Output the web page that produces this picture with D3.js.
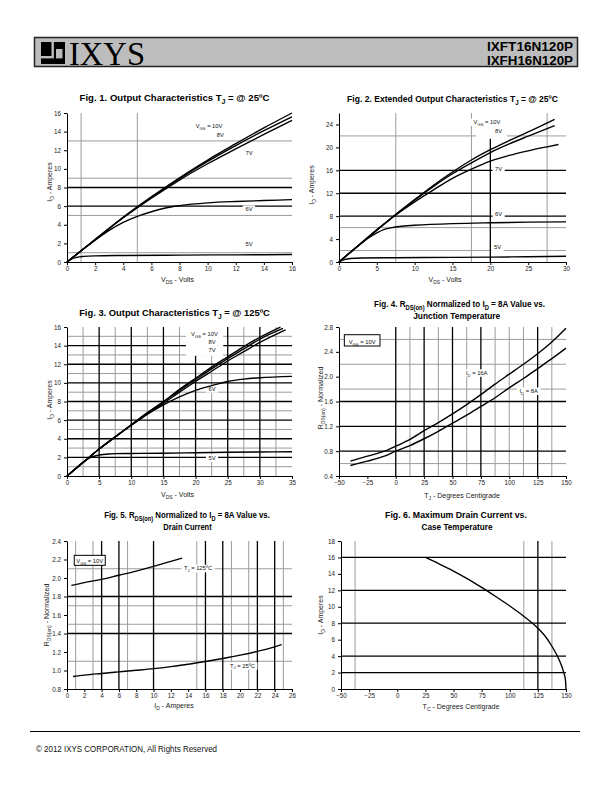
<!DOCTYPE html>
<html><head><meta charset="utf-8">
<script src="https://cdn.jsdelivr.net/npm/d3@7"></script>
<style>
html,body{margin:0;padding:0;background:#fff;}
svg{display:block;font-family:"Liberation Sans",Arial,Helvetica,sans-serif;}
</style></head><body>
<svg id="page" width="612" height="792"></svg>
<script>
// ================= DATA =================
// Fig 1 : Output characteristics @25C (VDS 0..16)
const f1XTicks = [0,2,4,6,8,10,12,14,16];
const f1YTicks = [0,2,4,6,8,10,12,14,16];
const f1Vgs10 = [[0,0],[1,1.2],[2,2.4],[4,4.8],[6,7.0],[8,9.05],[10,10.95],[12,12.7],[14,14.4],[16,16.0]];
const f1Vgs8  = [[0,0],[1,1.2],[2,2.4],[4,4.8],[6,6.95],[8,8.95],[10,10.8],[12,12.5],[14,14.1],[16,15.6]];
const f1Vgs7  = [[0,0],[1,1.2],[2,2.4],[4,4.75],[6,6.85],[8,8.8],[10,10.55],[12,12.15],[14,13.7],[16,15.2]];
const f1Vgs6  = [[0,0],[1,1.2],[2,2.35],[3,3.4],[4,4.25],[5,4.9],[6,5.4],[7,5.8],[8,6.05],[10,6.35],[12,6.5],[14,6.6],[16,6.7]];
const f1Vgs5  = [[0,0],[0.3,0.3],[0.7,0.5],[1.2,0.6],[2,0.66],[4,0.7],[8,0.74],[12,0.77],[16,0.8]];
const f1GridXGray = [1,5];
const f1GridYGray = [1,5,9,13];
const f1GridYBlack = [6,8];

// Fig 2 : Extended output characteristics @25C (VDS 0..30)
const f2XTicks = [0,5,10,15,20,25,30];
const f2YTicks = [0,4,8,12,16,20,24];
const f2Vgs10 = [[0,0],[2.5,2.8],[5,5.6],[7.5,8.3],[10,10.9],[12.5,13.4],[15,15.7],[17.5,17.8],[20,19.6],[22.5,21.2],[25,22.7],[28.5,24.9]];
const f2Vgs8  = [[0,0],[2.5,2.8],[5,5.6],[7.5,8.3],[10,10.8],[12.5,13.2],[15,15.4],[17.5,17.3],[20,19.1],[22.5,20.6],[25,21.95],[28.5,23.8]];
const f2Vgs7  = [[0,0],[2.5,2.8],[5,5.55],[7.5,8.2],[10,10.5],[12.5,12.6],[15,14.6],[17.5,16.2],[20,17.6],[22.5,18.6],[25,19.4],[27.5,20.1],[29,20.5]];
const f2Vgs6  = [[0,0],[2.5,2.8],[4,4.3],[5,5.1],[6,5.7],[7,6.0],[8,6.2],[10,6.4],[15,6.7],[20,6.85],[25,6.95],[30,7.0]];
const f2Vgs5  = [[0,0],[0.7,0.4],[1.5,0.6],[3,0.7],[7.5,0.75],[15,0.8],[20,0.85],[25,0.92],[30,1.0]];
const f2GridXGray = [7.5,17.5,27.5];
const f2GridXBlack = [20];
const f2GridYGray = [2,6,22];
const f2GridYBlack = [8,12,16];

// Fig 3 : Output characteristics @125C (VDS 0..35)
const f3XTicks = [0,5,10,15,20,25,30,35];
const f3YTicks = [0,2,4,6,8,10,12,14,16];
const f3Vgs10 = [[0,0],[2.5,1.45],[5,2.9],[7.5,4.2],[10,5.5],[12.5,6.8],[15,8.0],[17.5,9.3],[20,10.5],[22.5,11.7],[25,12.8],[27.5,13.9],[30,14.9],[33.2,16.0]];
const f3Vgs8  = [[0,0],[2.5,1.45],[5,2.9],[7.5,4.2],[10,5.5],[12.5,6.75],[15,7.95],[17.5,9.2],[20,10.35],[22.5,11.5],[25,12.6],[27.5,13.65],[30,14.7],[33.6,15.85]];
const f3Vgs7  = [[0,0],[2.5,1.45],[5,2.9],[7.5,4.2],[10,5.45],[12.5,6.65],[15,7.8],[17.5,9.0],[20,10.15],[22.5,11.25],[25,12.35],[27.5,13.35],[30,14.35],[34,15.7]];
const f3Vgs6  = [[0,0],[2.5,1.45],[5,2.9],[7.5,4.2],[10,5.45],[12.5,6.65],[15,7.65],[17.5,8.5],[20,9.2],[22.5,9.7],[25,10.15],[27.5,10.4],[30,10.55],[35,10.7]];
const f3Vgs5  = [[0,0],[1,0.6],[2.5,1.5],[3.5,1.95],[5,2.25],[6.5,2.37],[7.5,2.4],[10,2.42],[15,2.45],[20,2.5],[25,2.55],[30,2.58],[35,2.6]];
const f3GridXGray = [2.5,7.5,12.5,17.5,22.5,27.5,32.5];
const f3GridXBlack = [5,10,15,20,25,30];
const f3GridYGray = [1,3,5,7,9,11,13,15];
const f3GridYBlack = [2,4,6,8,10,12,14];

// Fig 4 : RDS(on) vs junction temperature
const f4XTicks = [-50,-25,0,25,50,75,100,125,150];
const f4YTicks = [0.4,0.8,1.2,1.6,2.0,2.4,2.8];
const f4Id16 = [[-40,0.64],[-25,0.72],[-10,0.8],[0,0.88],[12.5,0.99],[25,1.13],[37.5,1.26],[50,1.40],[62.5,1.55],[75,1.71],[87.5,1.88],[100,2.04],[112.5,2.2],[125,2.37],[137.5,2.56],[150,2.78]];
const f4Id8  = [[-40,0.57],[-25,0.64],[-10,0.72],[0,0.80],[12.5,0.89],[25,1.0],[37.5,1.12],[50,1.25],[62.5,1.38],[75,1.52],[87.5,1.66],[100,1.82],[112.5,1.97],[125,2.13],[137.5,2.29],[150,2.46]];
const f4GridXGray = [12.5,37.5,62.5,87.5,100,112.5,137.5];
const f4GridXBlack = [0,25,50,75,125];
const f4GridYGray = [0.6,1.8,2.2,2.6];
const f4GridYBlack = [0.8,1.2,1.6];

// Fig 5 : RDS(on) vs drain current
const f5XTicks = [0,2,4,6,8,10,12,14,16,18,20,22,24,26];
const f5YTicks = [0.8,1.0,1.2,1.4,1.6,1.8,2.0,2.2,2.4];
const f5Tj125 = [[0.5,1.92],[2,1.95],[4,1.985],[6,2.03],[8,2.075],[10,2.125],[12,2.18],[13.3,2.215]];
const f5Tj25  = [[0.7,0.935],[2,0.95],[4,0.968],[6,0.985],[8,1.002],[10,1.02],[12,1.042],[14,1.067],[16,1.097],[18,1.13],[20,1.166],[22,1.207],[24,1.255],[24.8,1.28]];
const f5GridXGray = [1,3,7,15,19,21,25];
const f5GridXBlack = [4,6,10,16,18,22,24];
const f5GridYGray = [1.1,1.5,1.7,2.1];
const f5GridYBlack = [1.4,1.8];

// Fig 6 : Maximum drain current vs case temperature
const f6XTicks = [-50,-25,0,25,50,75,100,125,150];
const f6YTicks = [0,2,4,6,8,10,12,14,16,18];
const f6Imax = [[25,16],[37.5,15.2],[50,14.35],[62.5,13.4],[75,12.35],[87.5,11.25],[100,10.1],[112.5,8.85],[125,7.4],[131,6.5],[137.5,5.2],[142,4.1],[145,3.2],[148,2.0],[149.5,1.1],[150,0]];
const f6GridXGray = [-37.5,112.5,137.5];
const f6GridXBlack = [125];
const f6GridYBlack = [2,4,8,12,16];

// ================= DRAWING =================
const svg = d3.select('#page');
const FONT = '"Liberation Sans",Arial,Helvetica,sans-serif';

function addRich(textSel, parts, fs) {
  let shifted = 0;
  parts.forEach(p => {
    const isSub = typeof p !== 'string';
    const t = textSel.append('tspan').text(isSub ? p.s : p);
    if (isSub) {
      const d = fs * 0.3;
      t.attr('font-size', fs * 0.72).attr('dy', d - shifted);
      shifted = d;
    } else if (shifted) {
      t.attr('dy', -shifted); shifted = 0;
    }
  });
}

function placeText(parent, parts, opt) {
  const t = parent.append('text')
    .attr('font-size', opt.fs)
    .attr('font-weight', opt.bold ? 'bold' : null)
    .attr('fill', opt.fill || '#111')
    .attr('text-anchor', opt.anchor || 'middle')
    .attr('x', 0).attr('y', 0);
  addRich(t, parts, opt.fs);
  let k = 1;
  if (opt.width) k = opt.width / t.node().getBBox().width;
  const rot = opt.rotate ? ` rotate(${opt.rotate})` : '';
  t.attr('transform', `translate(${opt.x},${opt.y})${rot} scale(${k},1)`);
  return t;
}

function chart(c) {
  const g = svg.append('g');
  const x = d3.scaleLinear().domain(c.xDomain).range([c.left, c.right]);
  const y = d3.scaleLinear().domain(c.yDomain).range([c.bottom, c.top]);
  const gridG = g.append('g'), boxG = g.append('g'), curveG = g.append('g'),
        axisG = g.append('g'), labelG = g.append('g');

  const vgrid = (vals, col, w) => (vals || []).forEach(v => gridG.append('line')
    .attr('x1', x(v)).attr('x2', x(v)).attr('y1', c.top).attr('y2', c.bottom)
    .attr('stroke', col).attr('stroke-width', w));
  const hgrid = (vals, col, w) => (vals || []).forEach(v => gridG.append('line')
    .attr('x1', c.left).attr('x2', c.right).attr('y1', y(v)).attr('y2', y(v))
    .attr('stroke', col).attr('stroke-width', w));
  vgrid(c.gxGray, '#9c9c9c', 1); hgrid(c.gyGray, '#9c9c9c', 1);
  vgrid(c.gxBlack, '#000', 1.3); hgrid(c.gyBlack, '#000', 1.3);

  (c.boxes || []).forEach(b => {
    boxG.append('rect')
      .attr('x', x(b.x0)).attr('y', y(b.y1))
      .attr('width', x(b.x1) - x(b.x0)).attr('height', y(b.y0) - y(b.y1))
      .attr('fill', '#fff')
      .attr('stroke', b.border ? '#000' : 'none').attr('stroke-width', 1);
  });

  const line = d3.line().x(d => x(d[0])).y(d => y(d[1])).curve(d3.curveMonotoneX);
  c.series.forEach(s => curveG.append('path').attr('d', line(s))
    .attr('fill', 'none').attr('stroke', '#000').attr('stroke-width', 1.4));

  const ax = axisG.append('g').attr('transform', `translate(0,${c.bottom})`)
    .call(d3.axisBottom(x).tickValues(c.xTicks).tickSize(3).tickSizeOuter(0).tickPadding(1.5)
      .tickFormat(c.xFmt || d3.format('d')));
  const ay = axisG.append('g').attr('transform', `translate(${c.left},0)`)
    .call(d3.axisLeft(y).tickValues(c.yTicks).tickSize(3).tickSizeOuter(0).tickPadding(3)
      .tickFormat(c.yFmt || d3.format('d')));
  [ax, ay].forEach(a => {
    a.select('.domain').attr('stroke', '#000').attr('stroke-width', 1);
    a.selectAll('.tick line').attr('stroke', '#000');
    a.selectAll('.tick text').attr('font-size', 6.3).attr('font-family', FONT).attr('fill', '#222');
  });

  (c.labels || []).forEach(l => {
    const t = placeText(labelG, l.parts, { fs: 5.8, x: x(l.x), y: y(l.y), fill: '#111' });
    if (l.bg !== false) {
      const bb = t.node().getBBox();
      boxG.append('rect')
        .attr('x', x(l.x) - bb.width / 2 - 2.5).attr('y', y(l.y) - 5.5)
        .attr('width', bb.width + 5).attr('height', 7.5).attr('fill', '#fff');
    }
  });

  c.titles.forEach(tl => placeText(svg, tl.parts, { fs: 9.6, bold: true, x: tl.x, y: tl.y, width: tl.w, fill: '#000' }));
  placeText(svg, c.xTitle.parts, { fs: 7, x: c.xTitle.x, y: c.xTitle.y, fill: '#222' });
  placeText(svg, c.yTitle.parts, { fs: 7, x: c.yTitle.x, y: c.yTitle.y, rotate: -90, fill: '#222' });
}

const VGS10 = ['V', {s:'GS'}, ' = 10V'];
const fmt1 = d3.format('.1f');

chart({
  left: 67, right: 292, top: 113, bottom: 262,
  xDomain: [0,16], yDomain: [0,16], xTicks: f1XTicks, yTicks: f1YTicks,
  gxGray: f1GridXGray, gyGray: f1GridYGray, gyBlack: f1GridYBlack,
  series: [f1Vgs10, f1Vgs8, f1Vgs7, f1Vgs6, f1Vgs5],
  labels: [
    {parts: VGS10, x: 10.1, y: 14.36},
    {parts: ['8V'], x: 10.9, y: 13.45},
    {parts: ['7V'], x: 12.94, y: 11.49},
    {parts: ['6V'], x: 12.94, y: 5.48},
    {parts: ['5V'], x: 12.94, y: 1.72}
  ],
  titles: [{parts: ['Fig. 1. Output Characteristics T', {s:'J'}, ' = @ 25ºC'], x: 174.5, y: 101, w: 190}],
  xTitle: {parts: ['V', {s:'DS'}, ' - Volts'], x: 177.5, y: 281.7},
  yTitle: {parts: ['I', {s:'D'}, ' - Amperes'], x: 51.5, y: 182}
});

chart({
  left: 339, right: 566, top: 113, bottom: 262,
  xDomain: [0,30], yDomain: [0,26], xTicks: f2XTicks, yTicks: f2YTicks,
  gxGray: f2GridXGray, gxBlack: f2GridXBlack, gyGray: f2GridYGray, gyBlack: f2GridYBlack,
  series: [f2Vgs10, f2Vgs8, f2Vgs7, f2Vgs6, f2Vgs5],
  boxes: [{x0: 18.1, x1: 22.2, y0: 21.5, y1: 26}],
  labels: [
    {parts: VGS10, x: 19.56, y: 24.08},
    {parts: ['8V'], x: 21.1, y: 22.46},
    {parts: ['7V'], x: 21.1, y: 15.88},
    {parts: ['6V'], x: 21.1, y: 8.08},
    {parts: ['5V'], x: 20.95, y: 2.22}
  ],
  titles: [{parts: ['Fig. 2. Extended Output Characteristics T', {s:'J'}, ' = @ 25ºC'], x: 452.5, y: 101.7, w: 211}],
  xTitle: {parts: ['V', {s:'DS'}, ' - Volts'], x: 445, y: 282},
  yTitle: {parts: ['I', {s:'D'}, ' - Amperes'], x: 313.5, y: 185}
});

chart({
  left: 67, right: 292, top: 327, bottom: 476,
  xDomain: [0,35], yDomain: [0,16], xTicks: f3XTicks, yTicks: f3YTicks,
  gxGray: f3GridXGray, gxBlack: f3GridXBlack, gyGray: f3GridYGray, gyBlack: f3GridYBlack,
  series: [f3Vgs10, f3Vgs8, f3Vgs7, f3Vgs6, f3Vgs5],
  boxes: [{x0: 18.5, x1: 24.3, y0: 12.9, y1: 16}],
  labels: [
    {parts: VGS10, x: 21.39, y: 15.03},
    {parts: ['8V'], x: 22.56, y: 14.14},
    {parts: ['7V'], x: 22.56, y: 13.28},
    {parts: ['6V'], x: 22.56, y: 9.16},
    {parts: ['5V'], x: 22.56, y: 1.72}
  ],
  titles: [{parts: ['Fig. 3. Output Characteristics T', {s:'J'}, ' = @ 125ºC'], x: 174.5, y: 316, w: 191}],
  xTitle: {parts: ['V', {s:'DS'}, ' - Volts'], x: 177.5, y: 496.7},
  yTitle: {parts: ['I', {s:'D'}, ' - Amperes'], x: 51.5, y: 400}
});

chart({
  left: 339, right: 566, top: 327, bottom: 476,
  xDomain: [-50,150], yDomain: [0.4,2.8], xTicks: f4XTicks, yTicks: f4YTicks, yFmt: fmt1,
  gxGray: f4GridXGray, gxBlack: f4GridXBlack, gyGray: f4GridYGray, gyBlack: f4GridYBlack,
  series: [f4Id16, f4Id8],
  boxes: [{x0: -45.3, x1: -13.9, y0: 2.494, y1: 2.676, border: true}],
  labels: [
    {parts: VGS10, x: -29.6, y: 2.53, bg: false},
    {parts: ['I', {s:'D'}, ' = 16A'], x: 71.3, y: 2.03},
    {parts: ['I', {s:'D'}, ' = 8A'], x: 117.1, y: 1.737}
  ],
  titles: [
    {parts: ['Fig. 4. R', {s:'DS(on)'}, ' Normalized to I', {s:'D'}, ' = 8A Value vs.'], x: 459.5, y: 306.7, w: 171},
    {parts: ['Junction Temperature'], x: 456.7, y: 319, w: 87}
  ],
  xTitle: {parts: ['T', {s:'J'}, ' - Degrees Centigrade'], x: 462, y: 497.7},
  yTitle: {parts: ['R', {s:'DS(on)'}, ' - Normalized'], x: 322.5, y: 398}
});

chart({
  left: 67, right: 292, top: 541, bottom: 689,
  xDomain: [0,26], yDomain: [0.8,2.4], xTicks: f5XTicks, yTicks: f5YTicks, yFmt: fmt1,
  gxGray: f5GridXGray, gxBlack: f5GridXBlack, gyGray: f5GridYGray, gyBlack: f5GridYBlack,
  series: [f5Tj125, f5Tj25],
  boxes: [{x0: 0.84, x1: 4.42, y0: 2.137, y1: 2.245, border: true}],
  labels: [
    {parts: VGS10, x: 2.63, y: 2.162, bg: false},
    {parts: ['T', {s:'J'}, ' = 125ºC'], x: 15.14, y: 2.083},
    {parts: ['T', {s:'J'}, ' = 25ºC'], x: 20.28, y: 1.03}
  ],
  titles: [
    {parts: ['Fig. 5. R', {s:'DS(on)'}, ' Normalized to I', {s:'D'}, ' = 8A Value vs.'], x: 187, y: 517.7, w: 166},
    {parts: ['Drain Current'], x: 187.5, y: 529.5, w: 49}
  ],
  xTitle: {parts: ['I', {s:'D'}, ' - Amperes'], x: 174, y: 708},
  yTitle: {parts: ['R', {s:'DS(on)'}, ' - Normalized'], x: 48.5, y: 615}
});

chart({
  left: 341, right: 566, top: 541, bottom: 689,
  xDomain: [-50,150], yDomain: [0,18], xTicks: f6XTicks, yTicks: f6YTicks,
  gxGray: f6GridXGray, gxBlack: f6GridXBlack, gyBlack: f6GridYBlack,
  series: [f6Imax],
  labels: [],
  titles: [
    {parts: ['Fig. 6. Maximum Drain Current vs.'], x: 456, y: 517.7, w: 142},
    {parts: ['Case Temperature'], x: 457, y: 530, w: 71}
  ],
  xTitle: {parts: ['T', {s:'C'}, ' - Degrees Centigrade'], x: 461, y: 709},
  yTitle: {parts: ['I', {s:'D'}, ' - Amperes'], x: 322.5, y: 615}
});

// ================= HEADER / FOOTER =================
const hdr = svg.append('g');
hdr.append('rect').attr('x', 34.5).attr('y', 37.5).attr('width', 543).attr('height', 29)
  .attr('fill', '#bdbdbd').attr('stroke', '#222').attr('stroke-width', 1.5);
const ic = hdr.append('g').attr('transform', 'translate(41,42)');
ic.append('rect').attr('width', 24).attr('height', 22).attr('fill', '#000');
ic.append('rect').attr('x', 10.5).attr('y', 0).attr('width', 2.4).attr('height', 14).attr('fill', '#bdbdbd');
ic.append('rect').attr('x', 0).attr('y', 14).attr('width', 12.9).attr('height', 2.4).attr('fill', '#bdbdbd');
ic.append('rect').attr('x', 15).attr('y', 7).attr('width', 6.5).attr('height', 9.4).attr('fill', '#bdbdbd');
hdr.append('text').attr('x', 69).attr('y', 64.5)
  .attr('font-family', '"Liberation Serif","Times New Roman",serif').attr('font-size', 33)
  .attr('textLength', 76).attr('lengthAdjust', 'spacingAndGlyphs').attr('fill', '#000').text('IXYS');
[['IXFT16N120P', 50.5], ['IXFH16N120P', 65]].forEach(([s, yy]) => {
  hdr.append('text').attr('x', 573).attr('y', yy).attr('text-anchor', 'end')
    .attr('font-size', 12.5).attr('font-weight', 'bold').attr('fill', '#000')
    .attr('textLength', 86).attr('lengthAdjust', 'spacingAndGlyphs').text(s);
});

svg.append('line').attr('x1', 30).attr('x2', 580).attr('y1', 731.5).attr('y2', 731.5)
  .attr('stroke', '#000').attr('stroke-width', 1);
svg.append('text').attr('x', 36).attr('y', 751.5).attr('font-size', 8.2).attr('fill', '#111')
  .attr('textLength', 181).attr('lengthAdjust', 'spacingAndGlyphs')
  .text('© 2012 IXYS CORPORATION, All Rights Reserved');
</script>
</body></html>
